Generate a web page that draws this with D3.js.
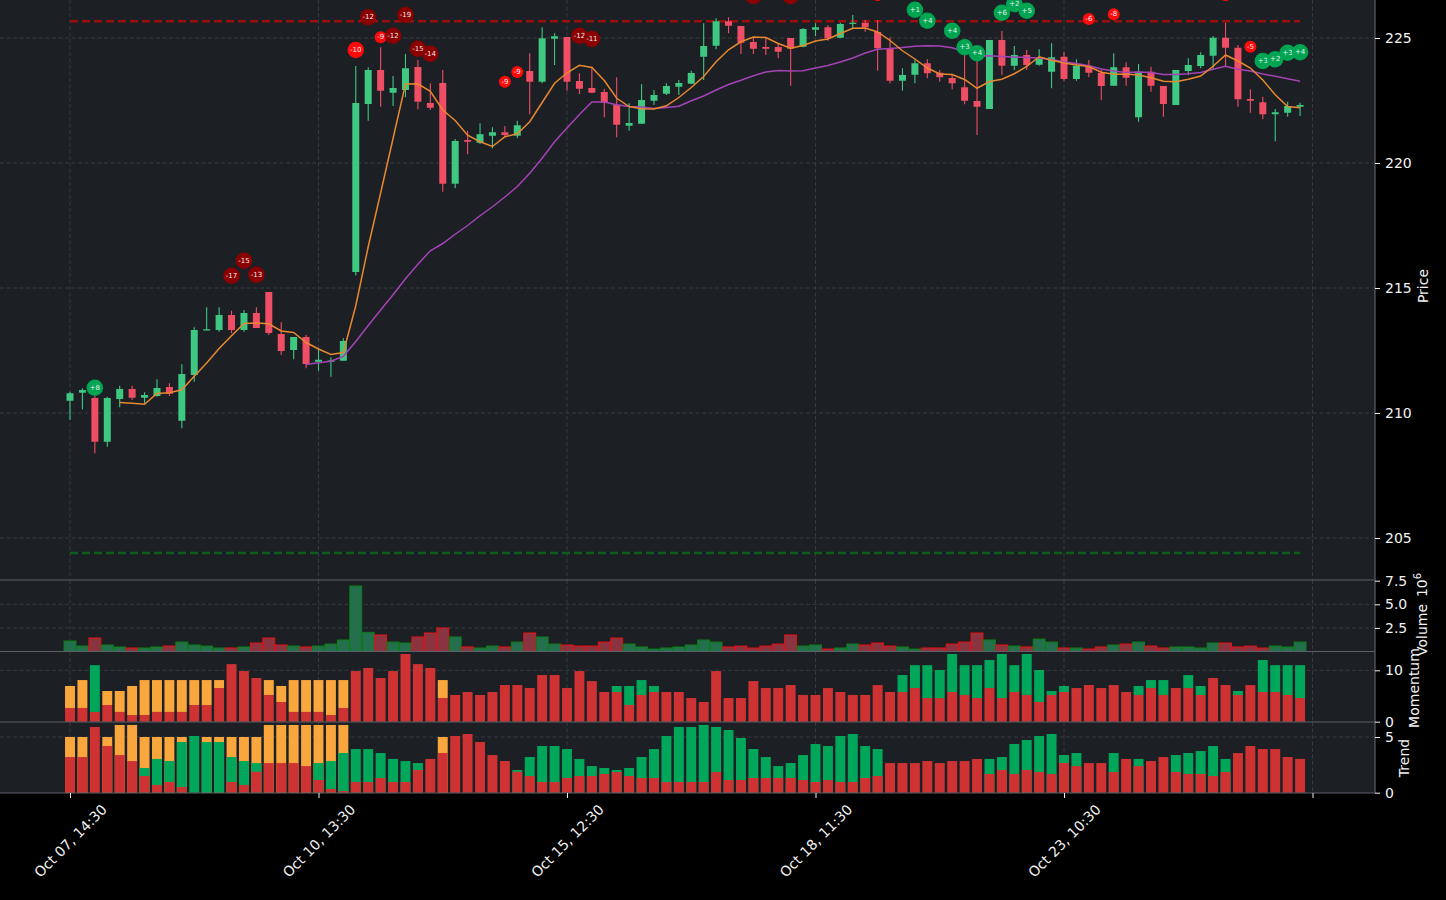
<!DOCTYPE html>
<html><head><meta charset="utf-8">
<script src="https://cdn.jsdelivr.net/npm/d3@7"></script>
<style>body{margin:0;background:#000;}svg{display:block;font-family:"DejaVu Sans",sans-serif;}</style>
</head><body><svg id="c" width="1446" height="900"></svg>
<script>
// ---------- data ----------
const tickIdx = [0,20,40,60,80,100];
const tickLabels = ["Oct 07, 14:30","Oct 10, 13:30","Oct 15, 12:30","Oct 18, 11:30","Oct 23, 10:30",""];

const openP = [210.49,210.81,210.60,208.85,210.56,210.96,210.61,210.68,211.04,209.69,
211.52,213.30,213.32,213.92,213.32,214.00,214.84,213.16,212.52,213.04,
212.05,212.05,212.09,215.64,222.36,223.72,222.81,222.92,223.84,222.40,
223.20,219.17,220.92,220.81,221.09,221.23,221.09,223.68,223.25,224.97,
225.04,223.28,223.00,222.84,222.32,221.49,221.57,222.49,222.77,223.05,
223.17,224.25,224.69,225.67,225.48,224.84,224.64,224.64,225.00,224.65,
225.33,225.43,225.01,225.57,225.61,225.24,224.59,223.29,223.53,223.99,
223.61,223.40,223.03,222.48,222.16,224.92,223.89,224.32,223.93,223.65,
224.25,223.36,223.89,223.61,223.09,223.83,221.83,223.65,223.08,222.32,
223.68,223.88,224.29,225.01,224.61,222.56,222.43,221.95,222.01,222.25];
const highP = [210.85,210.99,210.70,210.65,211.09,211.09,210.83,211.35,211.19,211.95,
213.43,214.23,214.23,214.09,214.12,214.23,214.84,213.63,213.04,213.12,
212.59,212.23,212.99,223.88,223.83,224.63,223.48,224.36,224.12,223.19,
223.72,220.96,221.29,221.59,221.43,221.48,221.69,224.39,225.43,225.19,
225.04,223.59,223.85,222.97,223.43,222.39,223.15,222.92,223.19,223.32,
223.69,225.59,225.79,225.83,225.48,225.01,225.01,224.79,225.00,225.40,
225.59,225.52,225.61,225.92,225.72,225.72,225.03,223.79,224.12,224.15,
223.72,223.52,224.45,224.35,224.92,225.28,224.68,224.52,224.55,224.79,
224.45,224.15,224.12,223.72,224.39,224.03,223.96,223.85,223.08,223.72,
224.19,224.43,225.08,225.61,224.72,222.95,222.65,222.16,222.45,222.41];
const lowP = [209.72,210.15,208.39,208.65,210.23,210.52,210.39,210.65,210.68,209.39,
211.25,213.30,213.25,213.19,213.25,213.40,213.12,212.32,212.15,211.79,
211.69,211.45,212.09,215.50,221.69,222.25,222.28,222.63,222.15,222.12,
218.85,218.99,220.35,220.76,220.59,221.03,220.99,221.95,223.19,223.92,
222.89,222.76,222.79,221.83,221.03,221.29,221.56,222.32,222.72,222.72,
223.16,223.32,224.55,225.19,224.36,224.36,224.32,224.19,223.09,224.63,
225.08,224.89,225.00,225.35,225.25,223.69,223.19,222.89,223.19,223.39,
223.25,222.95,222.35,221.12,222.16,223.52,223.72,223.72,223.89,222.99,
223.29,223.29,223.43,222.52,223.09,223.09,221.65,222.85,221.85,222.32,
223.52,223.79,223.75,223.88,222.25,222.01,221.75,220.87,221.85,221.88];
const closeP = [210.79,210.92,208.85,210.60,210.96,210.61,210.72,211.00,210.77,211.56,
213.32,213.35,213.92,213.32,214.00,213.40,213.20,212.48,213.04,211.96,
212.13,212.10,212.88,222.40,223.72,222.89,223.00,223.79,222.45,222.21,
219.17,220.88,220.85,221.15,221.23,221.12,221.51,223.25,224.99,225.07,
223.25,222.97,222.81,222.41,221.53,221.60,222.52,222.72,223.08,223.20,
223.60,224.68,225.67,225.49,224.81,224.57,224.57,224.45,224.57,225.36,
225.43,224.99,225.56,225.61,225.43,224.59,223.29,223.52,223.99,223.59,
223.43,223.19,222.49,222.25,224.92,223.89,224.32,223.92,224.19,224.23,
223.36,223.89,223.61,223.08,223.83,223.41,223.65,223.09,222.36,223.72,
223.92,224.32,225.01,224.61,222.55,222.49,221.95,222.03,222.28,222.32];

// volume, millions
const volume = [1.11,0.58,1.43,0.69,0.48,0.37,0.37,0.48,0.58,1.00,
0.69,0.58,0.37,0.37,0.48,0.90,1.43,0.69,0.58,0.48,
0.58,0.79,1.22,6.94,2.03,1.75,1.00,0.90,1.54,1.96,
2.49,1.54,0.48,0.37,0.58,0.48,1.00,1.96,1.54,0.79,
0.69,0.58,0.58,1.00,1.43,0.79,0.48,0.26,0.37,0.48,
0.69,1.22,1.00,0.48,0.58,0.37,0.58,0.79,1.75,0.58,
0.69,0.26,0.37,0.79,0.69,0.90,0.58,0.48,0.26,0.37,
0.37,0.79,1.00,1.96,1.22,0.69,0.58,0.48,1.32,1.00,
0.37,0.37,0.26,0.48,0.69,0.79,1.00,0.58,0.37,0.48,
0.48,0.37,0.90,0.90,0.48,0.58,0.37,0.58,0.48,1.00];

// short (orange) and long (magenta) average lines
const maShort = [null,null,null,null,
210.42,210.39,210.35,210.78,210.81,210.93,211.47,212.00,212.58,213.09,
213.58,213.60,213.57,213.28,213.22,212.82,212.56,212.34,212.42,214.29,
216.65,218.80,220.98,223.16,223.17,222.87,222.12,221.70,221.11,220.85,
220.66,221.05,221.17,221.65,222.42,223.19,223.61,223.91,223.82,223.30,
222.59,222.26,222.17,222.16,222.29,222.62,223.02,223.46,224.05,224.53,
224.85,225.04,225.02,224.78,224.59,224.70,224.88,224.96,225.18,225.39,
225.40,225.24,224.90,224.49,224.16,223.80,223.56,223.54,223.34,222.99,
223.26,223.35,223.57,223.86,224.25,224.11,224.00,223.92,223.86,223.63,
223.55,223.56,223.52,223.41,223.27,223.25,223.35,223.48,223.87,224.32,
224.08,223.80,223.32,222.73,222.26,222.21];
const maLong = [null,null,null,null,null,null,null,null,null,null,
null,null,null,null,null,null,null,null,null,
211.94,212.01,212.07,212.27,212.86,213.50,214.12,214.73,215.37,215.95,
216.49,216.78,217.15,217.50,217.89,218.25,218.64,219.06,219.59,220.19,
220.85,221.40,221.94,222.44,222.44,222.33,222.26,222.24,222.18,222.22,
222.27,222.49,222.68,222.92,223.14,223.31,223.49,223.64,223.70,223.68,
223.69,223.80,223.90,224.04,224.20,224.40,224.55,224.58,224.62,224.67,
224.69,224.68,224.61,224.45,224.28,224.29,224.26,224.24,224.22,224.20,
224.14,224.04,223.98,223.89,223.76,223.68,223.62,223.64,223.62,223.54,
223.54,223.57,223.62,223.75,223.87,223.75,223.68,223.56,223.47,223.37,
223.27];

const resistance = [225.67];
const support = [204.40];

// signal markers (the ones at 226.7 sit above the visible top; only their lower rim shows)
const sigIdx = [2,13,14,15,23,24,25,26,27,28,29,35,36,41,42,55,58,65,68,69,71,72,73,75,76,77,82,84,93,95,96,97,98,99];
const sigPrice = [211.01,215.49,216.09,215.53,224.52,225.83,225.03,225.09,225.92,224.57,224.37,223.25,223.64,225.09,224.96,226.68,226.68,226.72,226.13,225.69,225.29,224.63,224.39,226.01,226.36,226.09,225.76,225.95,226.72,224.65,224.08,224.15,224.41,224.43];
const sigText = ["+8","-17","-15","-13","-10","-12","-9","-12","-19","-15","-14","-9","-9","-12","-11","-13","-12","-7","+1","+4","+4","+3","+4","+6","+2","+5","-6","-8","-7","-5","+3","+2","+3","+4"];

// momentum: red base, extra stacked segment top and its colour
const momRed = [2.67,2.67,1.9,3.25,1.9,1.3,1.3,1.9,1.9,1.9,
3.25,3.25,6.55,11.2,9.85,8.5,5.2,3.83,1.9,1.9,
1.9,1.3,2.67,9.85,10.45,8.5,9.85,13.17,11.2,10.45,
4.6,5.2,5.78,5.2,5.78,7.13,7.13,6.55,9.08,9.08,
6.55,9.85,7.9,5.78,5.78,3.25,5.2,5.78,5.78,5.78,
4.6,3.83,9.85,4.6,4.6,7.9,6.55,6.55,7.13,5.2,
5.2,6.55,5.78,5.2,5.2,7.13,5.78,5.78,6.55,4.6,
4.6,5.78,5.2,4.6,6.55,4.6,5.78,5.2,3.83,5.2,
5.78,6.55,7.13,6.55,7.13,5.78,5.2,6.55,5.2,6.55,
6.55,5.2,8.5,7.13,5.2,7.13,5.78,5.78,5.2,4.6];
const momTop = [6.95,8.1,11.0,5.97,5.97,6.95,8.1,8.1,8.1,8.1,
8.1,8.1,8.1,0,0,0,8.1,6.95,8.1,8.1,
8.1,8.1,8.1,0,0,0,0,0,0,0,
8.1,0,0,0,0,0,0,0,0,0,
0,0,0,0,6.95,6.95,8.1,6.95,0,0,
0,0,0,0,0,0,0,0,0,0,
0,0,0,0,0,0,0,9.08,11.0,11.0,
10.06,13.17,11.0,11.0,12.0,13.17,11.0,13.17,10.06,5.97,
6.95,0,0,0,0,0,6.95,8.1,8.1,0,
9.08,6.95,0,0,5.97,0,12.0,11.0,11.0,11.0];
const momTopKind = ["o","o","g","o","o","o","o","o","o","o",
"o","o","o","","","","o","o","o","o",
"o","o","o","","","","","","","",
"o","","","","","","","","","",
"","","","","g","g","g","g","","",
"","","","","","","","","","",
"","","","","","","","g","g","g",
"g","g","g","g","g","g","g","g","g","g",
"g","","","","","","g","g","g","",
"g","g","","","g","","g","g","g","g"];

// trend: red base, green segment top, orange segment top (0 = none)
const trendRed = [3.2,3.2,5.9,4.19,3.38,2.84,1.5,0.69,0.96,0.51,
0,0,0,0.96,0.69,1.88,2.66,2.66,2.66,2.39,
1.14,0.33,0.15,0.96,0.96,1.32,0.96,0.96,2.04,3.03,
3.56,5.09,5.27,4.55,3.38,2.84,1.88,1.5,0.96,0.96,
1.32,1.5,1.5,1.68,1.86,1.5,1.32,1.32,0.96,0.96,
0.96,0.96,1.86,1.14,1.14,1.32,1.32,1.32,1.32,1.14,
0.96,1.14,0.96,0.96,1.32,1.5,2.66,2.66,2.66,2.84,
2.66,2.84,2.84,3.03,1.68,2.04,1.68,2.04,1.86,1.68,
2.66,2.39,2.66,2.66,1.86,3.03,2.39,2.84,3.2,1.86,
1.68,1.68,1.5,1.86,3.56,4.19,3.92,3.92,3.2,3.03];
const trendGreen = [0,0,0,0,0,0,2.22,3.03,2.84,4.55,
5.09,4.55,4.55,3.2,2.84,2.66,0,0,0,0,
2.66,2.84,3.56,3.92,3.92,3.56,3.03,2.84,2.66,0,
0,0,0,0,0,0,2.04,3.2,4.19,4.19,
3.92,3.03,2.39,2.22,2.04,2.22,3.2,3.92,5.09,5.9,
5.9,6.08,5.9,5.63,4.91,3.92,3.2,2.39,2.66,3.38,
4.37,4.19,5.09,5.27,4.19,3.92,0,0,0,0,
0,0,0,0,3.03,3.2,4.37,4.73,5.09,5.27,
3.38,3.56,0,0,3.56,0,3.03,0,0,3.38,
3.56,3.74,4.19,3.03,0,0,0,0,0,0];
const trendOrange = [5.0,5.0,0,5.0,6.08,6.08,5.0,5.0,5.0,5.0,
0,5.0,5.0,5.0,5.0,5.0,6.08,6.08,6.08,6.08,
6.08,6.08,6.08,0,0,0,0,0,0,0,
5.0,0,0,0,0,0,0,0,0,0,
0,0,0,0,0,0,0,0,0,0,
0,0,0,0,0,0,0,0,0,0,
0,0,0,0,0,0,0,0,0,0,
0,0,0,0,0,0,0,0,0,0,
0,0,0,0,0,0,0,0,0,0,
0,0,0,0,0,0,0,0,0,0];

// ---------- drawing ----------
const N = closeP.length;
const idx = d3.range(N);
const R = 1375;
const svg = d3.select("#c");
const x = d3.scaleLinear().domain([-5.634,105.03]).range([0,R]);
const step = x(1)-x(0);
const yP = d3.scaleLinear().domain([203.32,226.52]).range([580,0]);
const yV = d3.scaleLinear().domain([0,7.5]).range([651.5,580.7]);
const yM = d3.scaleLinear().domain([0,10]).range([721.7,670.3]);
const yT = d3.scaleLinear().domain([0,5]).range([792.7,737]);

const BG = "#1c1f24", GRID = "#3a3e45", SPINE = "#5d6066", TXT = "#f2f2f2";
const panels = [[0,580],[580,651.5],[651.5,722],[722,793]];
panels.forEach(p=>svg.append("rect").attr("x",0).attr("y",p[0]).attr("width",R).attr("height",p[1]-p[0]).attr("fill",BG));

const defs = svg.append("defs");
defs.append("clipPath").attr("id","cp").append("rect").attr("x",0).attr("y",0).attr("width",R).attr("height",580);

// grids
const grid = svg.append("g").attr("stroke",GRID).attr("stroke-width",0.9).attr("stroke-dasharray","4,2.5");
tickIdx.forEach(t=>{ panels.forEach(p=>grid.append("line").attr("x1",x(t)).attr("x2",x(t)).attr("y1",p[0]).attr("y2",p[1])); });
[205,210,215,220,225].forEach(v=>grid.append("line").attr("x1",0).attr("x2",R).attr("y1",yP(v)).attr("y2",yP(v)));
[2.5,5.0].forEach(v=>grid.append("line").attr("x1",0).attr("x2",R).attr("y1",yV(v)).attr("y2",yV(v)));
grid.append("line").attr("x1",0).attr("x2",R).attr("y1",yM(10)).attr("y2",yM(10));
grid.append("line").attr("x1",0).attr("x2",R).attr("y1",yT(5)).attr("y2",yT(5));

// support / resistance
const lvl = svg.append("g").attr("clip-path","url(#cp)");
const flat = (v)=>d3.line().x(d=>x(d)).y(()=>yP(v))([0,N-1]);
lvl.append("path").attr("d",flat(resistance[0])).attr("stroke","#9c0f0f").attr("stroke-width",2.4).attr("stroke-dasharray","8,4").attr("fill","none");
lvl.append("path").attr("d",flat(support[0])).attr("stroke","#0c5e1a").attr("stroke-width",2.4).attr("stroke-dasharray","8,4").attr("fill","none");

// candles
const GUP = "#3ec882", RDN = "#f04e64";
const up = i => closeP[i] >= openP[i];
const cg = svg.append("g").attr("clip-path","url(#cp)");
cg.selectAll("line.w").data(idx).join("line").attr("class","w")
  .attr("x1",i=>x(i)).attr("x2",i=>x(i)).attr("y1",i=>yP(highP[i])).attr("y2",i=>yP(lowP[i]))
  .attr("stroke",i=>up(i)?GUP:RDN).attr("stroke-width",1.1);
const bw = 7;
cg.selectAll("rect.b").data(idx).join("rect").attr("class","b")
  .attr("x",i=>x(i)-bw/2).attr("width",bw)
  .attr("y",i=>yP(Math.max(openP[i],closeP[i])))
  .attr("height",i=>Math.max(1.2, Math.abs(yP(openP[i])-yP(closeP[i]))))
  .attr("fill",i=>up(i)?GUP:RDN);

// moving averages
const ln = arr => d3.line().defined(i=>arr[i]!=null).x(i=>x(i)).y(i=>yP(arr[i]))(idx);
cg.append("path").attr("d",ln(maLong)).attr("stroke","#a642b8").attr("stroke-width",1.5).attr("fill","none");
cg.append("path").attr("d",ln(maShort)).attr("stroke","#e8882e").attr("stroke-width",1.5).attr("fill","none");

// signal markers
const sg = svg.append("g").attr("clip-path","url(#cp)");
sigIdx.forEach((i,k)=>{
  const n = parseInt(sigText[k],10);
  const col = n>0 ? "#00a552" : (Math.abs(n)>10 ? "#8b0000" : "#ff0a0a");
  const r = (n<0 && Math.abs(n)<10) ? 6 : 8.3;
  const cy = yP(sigPrice[k]);
  sg.append("circle").attr("cx",x(i)).attr("cy",cy).attr("r",r).attr("fill",col);
  if (cy >= 3) {   // labels of markers above the frame are not visible in the chart
    sg.append("text").attr("x",x(i)).attr("y",cy).attr("text-anchor","middle").attr("dominant-baseline","central")
      .attr("font-size",7).attr("fill","#eeeeee").text(sigText[k]);
  }
});

// volume
const vw = step*0.96;
svg.append("g").selectAll("rect").data(idx).join("rect")
  .attr("x",i=>x(i)-vw/2).attr("width",vw).attr("y",i=>yV(volume[i])).attr("height",i=>yV(0)-yV(volume[i]))
  .attr("fill",i=>up(i)?"#24704e":"#8a3442").attr("stroke",i=>up(i)?"#0b7f12":"#e81010").attr("stroke-width",1);

// momentum
const RB="#cf3232", OR="#f9a63c", GR="#00a75a";
const mw = step*0.8;
const mg = svg.append("g");
mg.selectAll("rect.r").data(idx).join("rect").attr("class","r")
  .attr("x",i=>x(i)-mw/2).attr("width",mw).attr("y",i=>yM(momRed[i])).attr("height",i=>yM(0)-yM(momRed[i])).attr("fill",RB);
mg.selectAll("rect.t").data(idx.filter(i=>momTop[i]>0)).join("rect").attr("class","t")
  .attr("x",i=>x(i)-mw/2).attr("width",mw).attr("y",i=>yM(momTop[i])).attr("height",i=>yM(momRed[i])-yM(momTop[i]))
  .attr("fill",i=>momTopKind[i]==="g"?GR:OR);

// trend
const tg = svg.append("g");
tg.selectAll("rect.o").data(idx.filter(i=>trendOrange[i]>0)).join("rect").attr("class","o")
  .attr("x",i=>x(i)-mw/2).attr("width",mw).attr("y",i=>yT(trendOrange[i])).attr("height",i=>yT(0)-yT(trendOrange[i])).attr("fill",OR);
tg.selectAll("rect.g").data(idx.filter(i=>trendGreen[i]>0)).join("rect").attr("class","g")
  .attr("x",i=>x(i)-mw/2).attr("width",mw).attr("y",i=>yT(trendGreen[i])).attr("height",i=>yT(0)-yT(trendGreen[i])).attr("fill",GR);
tg.selectAll("rect.r").data(idx.filter(i=>trendRed[i]>0)).join("rect").attr("class","r")
  .attr("x",i=>x(i)-mw/2).attr("width",mw).attr("y",i=>yT(trendRed[i])).attr("height",i=>yT(0)-yT(trendRed[i])).attr("fill",RB);

// spines
const sp = svg.append("g").attr("stroke",SPINE).attr("stroke-width",1.2);
[580,651.5,722,793].forEach(y=>sp.append("line").attr("x1",0).attr("x2",R).attr("y1",y).attr("y2",y));
sp.append("line").attr("x1",R).attr("x2",R).attr("y1",0).attr("y2",793);

// axes
function styleAxis(g){
  g.select(".domain").remove();
  g.selectAll(".tick line").attr("stroke",TXT).attr("stroke-width",1);
  g.selectAll(".tick text").attr("fill",TXT).attr("font-size",14).attr("font-family","DejaVu Sans");
}
svg.append("g").attr("transform",`translate(${R},0)`)
  .call(d3.axisRight(yP).tickValues([205,210,215,220,225]).tickFormat(d3.format("d")).tickSize(5).tickPadding(5)).call(styleAxis);
svg.append("g").attr("transform",`translate(${R},0)`)
  .call(d3.axisRight(yV).tickValues([2.5,5.0,7.5]).tickFormat(d3.format(".1f")).tickSize(5).tickPadding(5)).call(styleAxis);
svg.append("g").attr("transform",`translate(${R},0)`)
  .call(d3.axisRight(yM).tickValues([0,10]).tickFormat(d3.format("d")).tickSize(5).tickPadding(5)).call(styleAxis);
svg.append("g").attr("transform",`translate(${R},0)`)
  .call(d3.axisRight(yT).tickValues([0,5]).tickFormat(d3.format("d")).tickSize(5).tickPadding(5)).call(styleAxis);

const xa = svg.append("g").attr("transform","translate(0,793)")
  .call(d3.axisBottom(x).tickValues(tickIdx).tickSize(5).tickFormat((d,i)=>tickLabels[i]));
xa.select(".domain").remove();
xa.selectAll(".tick line").attr("stroke",TXT);
xa.selectAll(".tick text").each(function(){
  const t = d3.select(this);
  t.attr("fill",TXT).attr("font-size",14).attr("font-family","DejaVu Sans");
  const w = this.getComputedTextLength();
  const h = 14;
  const cy = 9 + (w+h)*0.7071/2;
  t.attr("y",null).attr("dy",null).attr("text-anchor","middle").attr("dominant-baseline","central")
   .attr("transform",`translate(0,${cy}) rotate(-45)`);
});

// axis titles
function vlabel(txt, cx, cy){
  return svg.append("text").attr("transform",`translate(${cx},${cy}) rotate(-90)`).attr("text-anchor","middle")
    .attr("dominant-baseline","central").attr("fill",TXT).attr("font-size",14).text(txt);
}
vlabel("Price",1423,286);
vlabel("Volume",1422,630);
const e6 = svg.append("text").attr("transform","translate(1422,585) rotate(-90)").attr("text-anchor","middle")
  .attr("dominant-baseline","central").attr("fill",TXT).attr("font-size",14);
e6.append("tspan").text("10");
e6.append("tspan").attr("font-size",10).attr("dy",-5).text("6");
vlabel("Momentum",1414,688);
vlabel("Trend",1404,758);
</script></body></html>
